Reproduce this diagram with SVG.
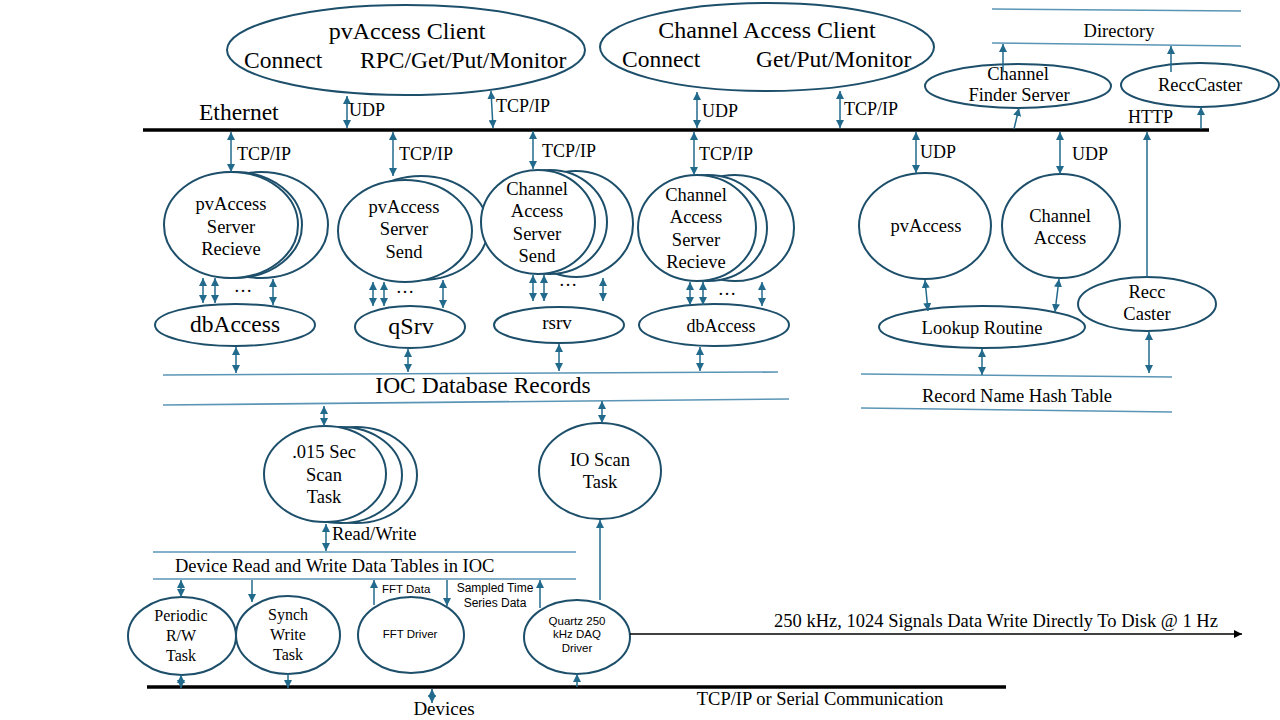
<svg xmlns="http://www.w3.org/2000/svg" width="1280" height="720" viewBox="0 0 1280 720">
<defs>
<marker id="ah" markerUnits="userSpaceOnUse" markerWidth="9" markerHeight="8" refX="8" refY="4" orient="auto-start-reverse"><path d="M0,0 L8,4 L0,8 z" fill="#226a8c"/></marker>
<marker id="ahk" markerUnits="userSpaceOnUse" markerWidth="9" markerHeight="8" refX="8" refY="4" orient="auto-start-reverse"><path d="M0,0 L8,4 L0,8 z" fill="#000"/></marker>
<style>
.n{fill:#fff;stroke:#1d4f6b;stroke-width:2}
.t{font-family:"Liberation Serif","Times New Roman",serif;font-size:18.5px;fill:#000;text-anchor:middle}
.l{text-anchor:start}
.s{font-family:"Liberation Sans",Arial,sans-serif;font-size:11.5px;fill:#000;text-anchor:middle}
.a{stroke:#226a8c;stroke-width:1.5;fill:none;marker-end:url(#ah)}
.d{marker-start:url(#ah)}
.bus{stroke:#000;stroke-width:3.5}
.tl{stroke:#5b95b6;stroke-width:1.6;fill:none}
</style>
</defs>
<rect width="1280" height="720" fill="#fff"/>

<g id="buses">
<line class="bus" x1="143" y1="130" x2="1209" y2="130"/>
<line class="bus" x1="147" y1="687" x2="1006" y2="687"/>
<text class="t l" x="199" y="120" style="font-size:23.5px">Ethernet</text>
<text class="t" x="820" y="705">TCP/IP or Serial Communication</text>
</g>

<g id="directory">
<line class="tl" x1="992" y1="9" x2="1241" y2="11"/>
<line class="tl" x1="992" y1="43" x2="1241" y2="46"/>
<text class="t" x="1119" y="37">Directory</text>
</g>

<g id="ioc-db">
<line class="tl" x1="163" y1="375" x2="778" y2="372"/>
<line class="tl" x1="163" y1="405" x2="789" y2="399"/>
<text class="t" x="483" y="393" style="font-size:23.5px">IOC Database Records</text>
</g>

<g id="hash-table">
<line class="tl" x1="861" y1="374" x2="1172" y2="377"/>
<line class="tl" x1="861" y1="408" x2="1172" y2="412"/>
<text class="t" x="1017" y="402">Record Name Hash Table</text>
</g>

<g id="device-tables">
<line class="tl" x1="153" y1="552" x2="576" y2="552"/>
<line class="tl" x1="153" y1="579" x2="576" y2="579"/>
<text class="t l" x="175" y="572">Device Read and Write Data Tables in IOC</text>
</g>

<g id="pva-client">
<ellipse class="n" cx="406" cy="50" rx="179" ry="45"/>
<text class="t" x="407" y="39" style="font-size:24px">pvAccess Client</text>
<text class="t l" x="244" y="68" style="font-size:23.5px">Connect</text>
<text class="t l" x="360" y="68" style="font-size:23.5px">RPC/Get/Put/Monitor</text>
</g>

<g id="ca-client">
<ellipse class="n" cx="767" cy="47" rx="167" ry="44"/>
<text class="t" x="767" y="38" style="font-size:24px">Channel Access Client</text>
<text class="t l" x="622" y="67" style="font-size:23.5px">Connect</text>
<text class="t l" x="756" y="67" style="font-size:23.5px">Get/Put/Monitor</text>
</g>

<g id="channel-finder">
<ellipse class="n" cx="1018" cy="86" rx="93" ry="22"/>
<text class="t" x="1018" y="80">Channel</text>
<text class="t" x="1019" y="101">Finder Server</text>
</g>

<g id="recccaster-top">
<ellipse class="n" cx="1200" cy="85" rx="79" ry="22"/>
<text class="t" x="1200" y="91">ReccCaster</text>
</g>

<g id="pva-server-recieve">
<ellipse class="n" cx="261" cy="225" rx="67" ry="53"/>
<ellipse class="n" cx="235" cy="225" rx="67" ry="53"/>
<ellipse class="n" cx="231" cy="225" rx="67" ry="53"/>
<text class="t" x="231" y="210">pvAccess</text>
<text class="t" x="231" y="233">Server</text>
<text class="t" x="231" y="255">Recieve</text>
</g>

<g id="pva-server-send">
<ellipse class="n" cx="421" cy="228" rx="67" ry="52"/>
<ellipse class="n" cx="405" cy="231" rx="67" ry="51"/>
<text class="t" x="404" y="213">pvAccess</text>
<text class="t" x="404" y="235">Server</text>
<text class="t" x="404" y="258">Send</text>
</g>

<g id="ca-server-send">
<ellipse class="n" cx="576" cy="224" rx="57" ry="53"/>
<ellipse class="n" cx="550" cy="222" rx="57" ry="52"/>
<ellipse class="n" cx="538" cy="222" rx="57" ry="52"/>
<text class="t" x="537" y="195">Channel</text>
<text class="t" x="537" y="217">Access</text>
<text class="t" x="537" y="240">Server</text>
<text class="t" x="537" y="262">Send</text>
</g>

<g id="ca-server-recieve">
<ellipse class="n" cx="735" cy="228" rx="59" ry="53"/>
<ellipse class="n" cx="708" cy="228" rx="59" ry="53"/>
<ellipse class="n" cx="697" cy="228" rx="59" ry="53"/>
<text class="t" x="696" y="201">Channel</text>
<text class="t" x="696" y="223">Access</text>
<text class="t" x="696" y="246">Server</text>
<text class="t" x="696" y="268">Recieve</text>
</g>

<g id="dbaccess-1">
<ellipse class="n" cx="235" cy="325" rx="80" ry="21"/>
<text class="t" x="235" y="332" style="font-size:23.5px">dbAccess</text>
</g>

<g id="qsrv">
<ellipse class="n" cx="410" cy="327" rx="55" ry="21"/>
<text class="t" x="411" y="334" style="font-size:24px">qSrv</text>
</g>

<g id="rsrv">
<ellipse class="n" cx="559" cy="325" rx="65" ry="18"/>
<text class="t" x="557" y="329" style="font-size:19px">rsrv</text>
</g>

<g id="dbaccess-2">
<ellipse class="n" cx="714" cy="325" rx="75" ry="21"/>
<text class="t" x="721" y="332" style="font-size:18px">dbAccess</text>
</g>

<g id="pvaccess-name">
<ellipse class="n" cx="925" cy="226" rx="66" ry="53"/>
<text class="t" x="926" y="232">pvAccess</text>
</g>

<g id="ca-name">
<ellipse class="n" cx="1061" cy="226" rx="59" ry="52"/>
<text class="t" x="1060" y="222">Channel</text>
<text class="t" x="1060" y="244">Access</text>
</g>

<g id="lookup-routine">
<ellipse class="n" cx="982" cy="327" rx="103" ry="21"/>
<text class="t" x="982" y="334">Lookup Routine</text>
</g>

<g id="recc-caster">
<ellipse class="n" cx="1147" cy="304" rx="69" ry="27"/>
<text class="t" x="1147" y="298">Recc</text>
<text class="t" x="1147" y="320">Caster</text>
</g>

<g id="scan-task">
<ellipse class="n" cx="356" cy="475" rx="61" ry="48"/>
<ellipse class="n" cx="341" cy="475" rx="61" ry="48"/>
<ellipse class="n" cx="325" cy="474" rx="61" ry="48"/>
<text class="t" x="324" y="458">.015 Sec</text>
<text class="t" x="324" y="481">Scan</text>
<text class="t" x="324" y="503">Task</text>
</g>

<g id="io-scan-task">
<ellipse class="n" cx="600" cy="471" rx="61" ry="48"/>
<text class="t" x="600" y="466">IO Scan</text>
<text class="t" x="600" y="488">Task</text>
</g>

<g id="periodic-task">
<ellipse class="n" cx="182" cy="636" rx="54" ry="39"/>
<text class="t" x="181" y="621" style="font-size:16px">Periodic</text>
<text class="t" x="181" y="641" style="font-size:16px">R/W</text>
<text class="t" x="181" y="661" style="font-size:16px">Task</text>
</g>

<g id="synch-task">
<ellipse class="n" cx="288" cy="635" rx="52" ry="39"/>
<text class="t" x="288" y="620" style="font-size:16px">Synch</text>
<text class="t" x="288" y="640" style="font-size:16px">Write</text>
<text class="t" x="288" y="660" style="font-size:16px">Task</text>
</g>

<g id="fft-driver">
<ellipse class="n" cx="411" cy="635" rx="53" ry="38"/>
<text class="s" x="410" y="638">FFT Driver</text>
</g>

<g id="quartz-driver">
<ellipse class="n" cx="577" cy="637" rx="53" ry="37"/>
<text class="s" x="577" y="625">Quartz 250</text>
<text class="s" x="577" y="638">kHz DAQ</text>
<text class="s" x="577" y="652">Driver</text>
</g>

<g id="connectors">
<line class="a d" x1="347" y1="96" x2="347" y2="128"/>
<line class="a d" x1="491" y1="91" x2="493" y2="128"/>
<line class="a d" x1="697" y1="92" x2="697" y2="128"/>
<line class="a d" x1="840" y1="91" x2="840" y2="128"/>
<line class="a" x1="1003" y1="72" x2="1003" y2="44"/>
<line class="a" x1="1171" y1="72" x2="1171" y2="46"/>
<line class="a" x1="1014" y1="129" x2="1019" y2="108"/>
<line class="a" x1="1201" y1="129" x2="1201" y2="107"/>
<line class="a d" x1="231" y1="132" x2="231" y2="172"/>
<line class="a d" x1="393" y1="132" x2="393" y2="176"/>
<line class="a d" x1="533" y1="131" x2="533" y2="169"/>
<line class="a d" x1="694" y1="132" x2="694" y2="175"/>
<line class="a d" x1="916" y1="132" x2="916" y2="173"/>
<line class="a d" x1="1060" y1="132" x2="1060" y2="174"/>
<line class="a" x1="1147" y1="277" x2="1147" y2="132"/>
<text class="t l" x="349" y="116" style="font-size:18px">UDP</text>
<text class="t l" x="496" y="112" style="font-size:18px">TCP/IP</text>
<text class="t l" x="702" y="117" style="font-size:18px">UDP</text>
<text class="t l" x="844" y="115" style="font-size:18px">TCP/IP</text>
<text class="t l" x="1128" y="123" style="font-size:18px">HTTP</text>
<text class="t l" x="237" y="160" style="font-size:18px">TCP/IP</text>
<text class="t l" x="399" y="160" style="font-size:18px">TCP/IP</text>
<text class="t l" x="542" y="157" style="font-size:18px">TCP/IP</text>
<text class="t l" x="699" y="160" style="font-size:18px">TCP/IP</text>
<text class="t l" x="920" y="158" style="font-size:18px">UDP</text>
<text class="t l" x="1072" y="160" style="font-size:18px">UDP</text>

<line class="a d" x1="203" y1="278" x2="203" y2="303"/>
<line class="a d" x1="215" y1="278" x2="215" y2="303"/>
<line class="a d" x1="273" y1="279" x2="273" y2="305"/>
<text class="t" x="243" y="292">…</text>
<line class="a d" x1="373" y1="282" x2="373" y2="306"/>
<line class="a d" x1="384" y1="282" x2="384" y2="306"/>
<line class="a d" x1="443" y1="280" x2="443" y2="308"/>
<text class="t" x="405" y="293">…</text>
<line class="a d" x1="533" y1="275" x2="533" y2="301"/>
<line class="a d" x1="544" y1="275" x2="544" y2="301"/>
<line class="a d" x1="603" y1="278" x2="603" y2="301"/>
<text class="t" x="568" y="286">…</text>
<line class="a d" x1="690" y1="282" x2="690" y2="305"/>
<line class="a d" x1="703" y1="282" x2="703" y2="305"/>
<line class="a d" x1="762" y1="282" x2="762" y2="306"/>
<text class="t" x="727" y="295">…</text>

<line class="a d" x1="236" y1="347" x2="236" y2="373"/>
<line class="a d" x1="408" y1="349" x2="408" y2="372"/>
<line class="a d" x1="559" y1="344" x2="559" y2="371"/>
<line class="a d" x1="700" y1="347" x2="700" y2="371"/>

<line class="a d" x1="925" y1="280" x2="928" y2="311"/>
<line class="a d" x1="1059" y1="279" x2="1055" y2="312"/>
<line class="a d" x1="982" y1="349" x2="982" y2="375"/>
<line class="a d" x1="1149" y1="332" x2="1149" y2="373"/>

<line class="a d" x1="324" y1="406" x2="324" y2="426"/>
<line class="a d" x1="602" y1="401" x2="602" y2="423"/>
<line class="a" x1="600" y1="600" x2="600" y2="520"/>
<line class="a d" x1="326" y1="524" x2="326" y2="551"/>
<text class="t l" x="332" y="540">Read/Write</text>

<line class="a d" x1="181" y1="580" x2="181" y2="597"/>
<line class="a" x1="252" y1="580" x2="252" y2="602"/>
<line class="a" x1="374" y1="605" x2="374" y2="580"/>
<line class="a" x1="447" y1="580" x2="447" y2="606"/>
<line class="a" x1="540" y1="608" x2="540" y2="580"/>
<text class="s" x="382" y="593" style="text-anchor:start">FFT Data</text>
<text class="s" x="495" y="592" style="font-size:12px">Sampled Time</text>
<text class="s" x="495" y="607" style="font-size:12px">Series Data</text>

<line class="a d" x1="181" y1="675" x2="181" y2="688"/>
<line class="a" x1="288" y1="674" x2="288" y2="688"/>
<line class="a" x1="577" y1="687" x2="577" y2="674"/>
<line class="a d" x1="432" y1="689" x2="432" y2="703"/>
<text class="t" x="444" y="715" style="font-size:19px">Devices</text>

<line x1="630" y1="634" x2="1242" y2="634" stroke="#000" stroke-width="1.3" marker-end="url(#ahk)"/>
<text class="t" x="996" y="627">250 kHz, 1024 Signals Data Write Directly To Disk @ 1 Hz</text>
</g>
</svg>
